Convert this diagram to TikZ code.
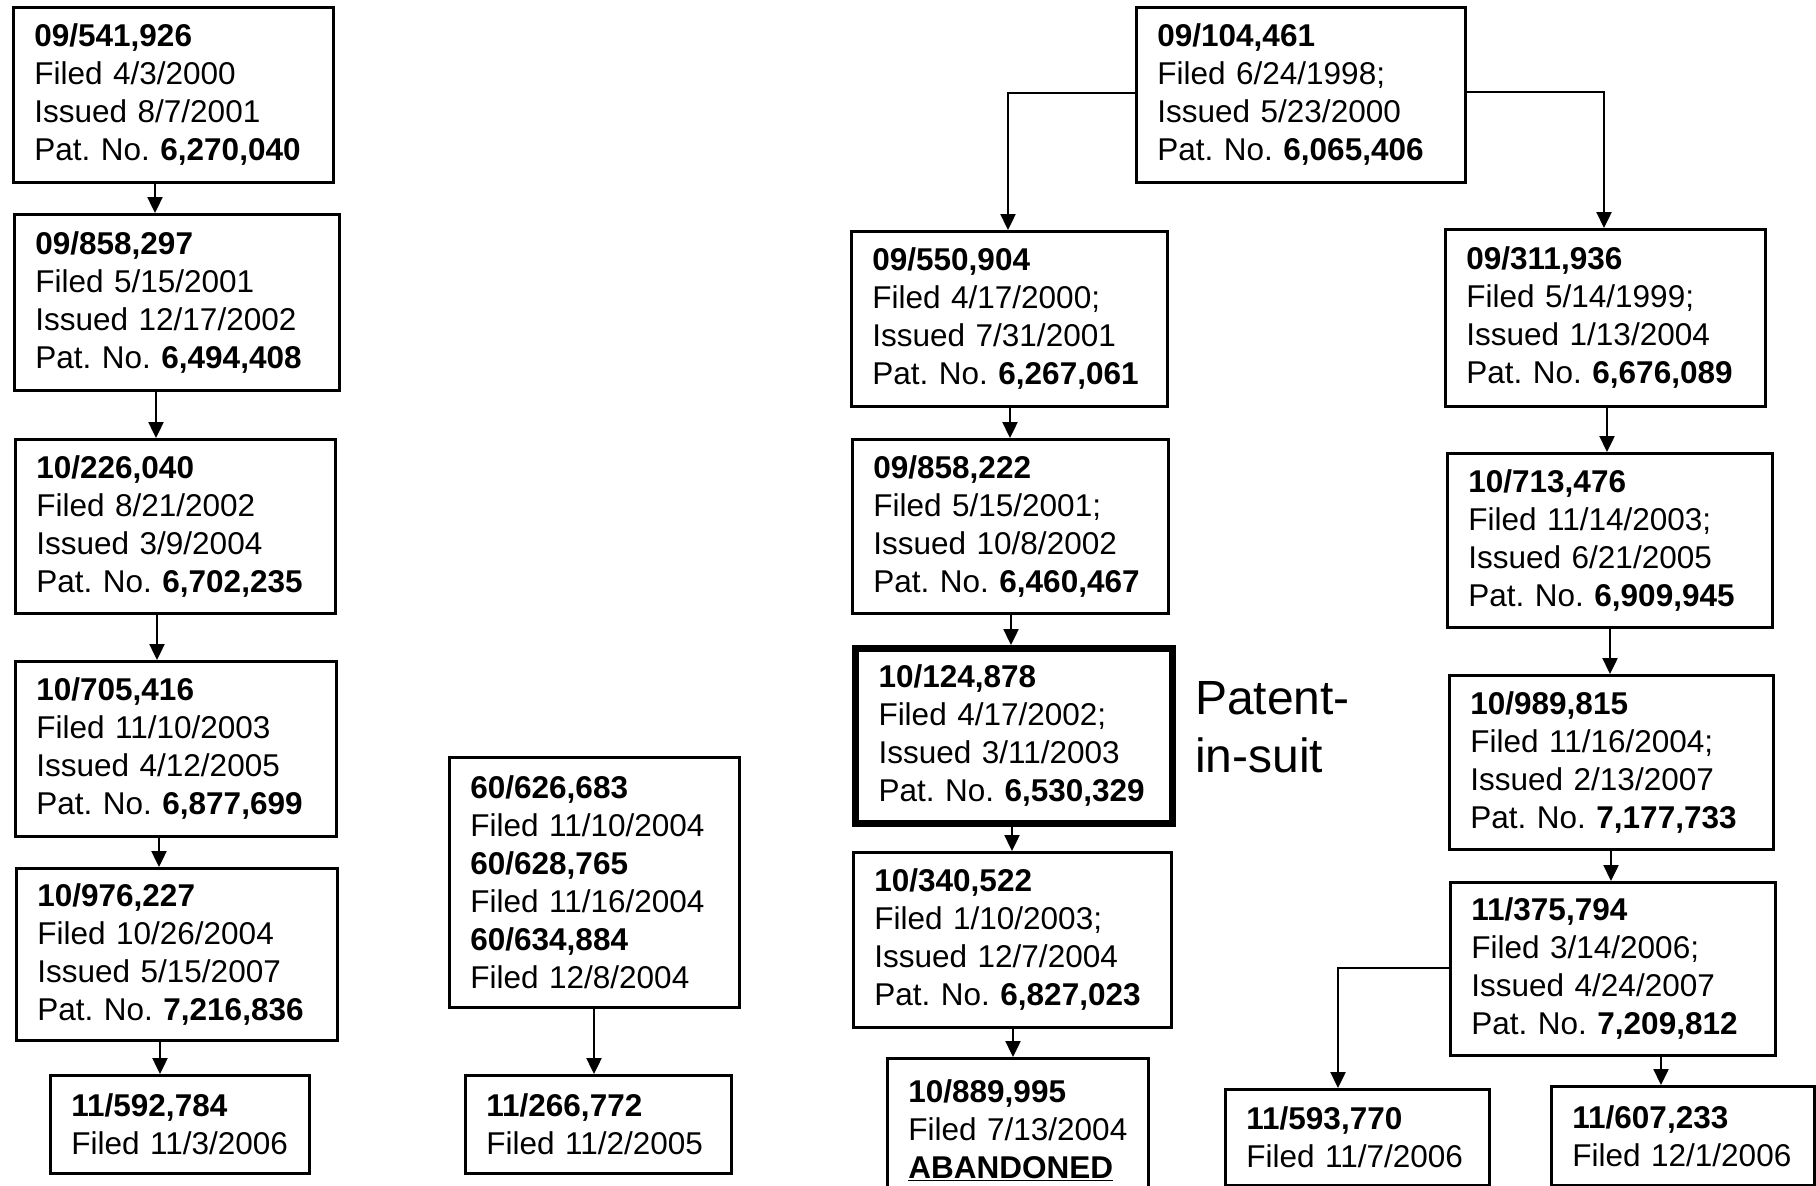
\documentclass[tikz,border=0pt]{standalone}
\usepackage{fontspec}
\setmainfont{Liberation Sans}
\usetikzlibrary{arrows.meta}
\begin{document}
\begin{tikzpicture}[x=1pt,y=-1pt,
  box/.style={draw, line width=2.8pt, anchor=north west, inner xsep=21pt, inner ysep=0pt, align=left, font=\fontsize{31.5}{38}\selectfont},
  suitbox/.style={box, line width=7pt, inner xsep=23pt},
  arr/.style={line width=2.4pt, -{Triangle[length=16pt,width=15pt]}},
  lbl/.style={font=\fontsize{48}{58}\selectfont, align=left, inner sep=0pt, anchor=west}]
\useasboundingbox (0,0) rectangle (1816,1186);
\clip (0,0) rectangle (1816,1186);

% left column
\node[box, minimum width=320pt, minimum height=175pt, text width=278pt] (a1) at (12,6)
  {\textbf{09/541,926}\\Filed~4/3/2000\\Issued~8/7/2001\\Pat.~No.~\textbf{6,270,040}};
\node[box, minimum width=325pt, minimum height=176pt, text width=283pt] (a2) at (13,213)
  {\textbf{09/858,297}\\Filed~5/15/2001\\Issued~12/17/2002\\Pat.~No.~\textbf{6,494,408}};
\node[box, minimum width=320pt, minimum height=174pt, text width=278pt] (a3) at (14,438)
  {\textbf{10/226,040}\\Filed~8/21/2002\\Issued~3/9/2004\\Pat.~No.~\textbf{6,702,235}};
\node[box, minimum width=321pt, minimum height=175pt, text width=279pt] (a4) at (14,660)
  {\textbf{10/705,416}\\Filed~11/10/2003\\Issued~4/12/2005\\Pat.~No.~\textbf{6,877,699}};
\node[box, minimum width=321pt, minimum height=172pt, text width=279pt] (a5) at (15,867)
  {\textbf{10/976,227}\\Filed~10/26/2004\\Issued~5/15/2007\\Pat.~No.~\textbf{7,216,836}};
\node[box, minimum width=259pt, minimum height=98pt, text width=217pt] (a6) at (49,1074)
  {\textbf{11/592,784}\\Filed~11/3/2006};

% provisional column
\node[box, minimum width=290pt, minimum height=250pt, text width=248pt] (b1) at (448,756)
  {\textbf{60/626,683}\\Filed~11/10/2004\\\textbf{60/628,765}\\Filed~11/16/2004\\\textbf{60/634,884}\\Filed~12/8/2004};
\node[box, minimum width=266pt, minimum height=98pt, text width=224pt] (b2) at (464,1074)
  {\textbf{11/266,772}\\Filed~11/2/2005};

% middle column
\node[box, minimum width=329pt, minimum height=175pt, text width=287pt] (c0) at (1135,6)
  {\textbf{09/104,461}\\Filed~6/24/1998;\\Issued~5/23/2000\\Pat.~No.~\textbf{6,065,406}};
\node[box, minimum width=316pt, minimum height=175pt, text width=274pt] (c1) at (850,230)
  {\textbf{09/550,904}\\Filed~4/17/2000;\\Issued~7/31/2001\\Pat.~No.~\textbf{6,267,061}};
\node[box, minimum width=316pt, minimum height=174pt, text width=274pt] (c2) at (851,438)
  {\textbf{09/858,222}\\Filed~5/15/2001;\\Issued~10/8/2002\\Pat.~No.~\textbf{6,460,467}};
\node[suitbox, minimum width=317pt, minimum height=175pt, text width=271pt] (c3) at (852,645)
  {\textbf{10/124,878}\\Filed~4/17/2002;\\Issued~3/11/2003\\Pat.~No.~\textbf{6,530,329}};
\node[box, minimum width=318pt, minimum height=175pt, text width=276pt] (c4) at (852,851)
  {\textbf{10/340,522}\\Filed~1/10/2003;\\Issued~12/7/2004\\Pat.~No.~\textbf{6,827,023}};
\node[box, minimum width=261pt, minimum height=143pt, text width=219pt] (c5) at (886,1057)
  {\textbf{10/889,995}\\Filed~7/13/2004\\\underline{\textbf{ABANDONED}}};
\node[lbl] (pis) at (1195,727) {Patent-\\in-suit};

% right column
\node[box, minimum width=320pt, minimum height=177pt, text width=278pt] (d1) at (1444,228)
  {\textbf{09/311,936}\\Filed~5/14/1999;\\Issued~1/13/2004\\Pat.~No.~\textbf{6,676,089}};
\node[box, minimum width=325pt, minimum height=174pt, text width=283pt] (d2) at (1446,452)
  {\textbf{10/713,476}\\Filed~11/14/2003;\\Issued~6/21/2005\\Pat.~No.~\textbf{6,909,945}};
\node[box, minimum width=324pt, minimum height=174pt, text width=282pt] (d3) at (1448,674)
  {\textbf{10/989,815}\\Filed~11/16/2004;\\Issued~2/13/2007\\Pat.~No.~\textbf{7,177,733}};
\node[box, minimum width=325pt, minimum height=173pt, text width=283pt] (d4) at (1449,881)
  {\textbf{11/375,794}\\Filed~3/14/2006;\\Issued~4/24/2007\\Pat.~No.~\textbf{7,209,812}};
\node[box, minimum width=264pt, minimum height=96pt, text width=222pt] (d5) at (1224,1088)
  {\textbf{11/593,770}\\Filed~11/7/2006};
\node[box, minimum width=263pt, minimum height=99pt, text width=221pt] (d6) at (1550,1085)
  {\textbf{11/607,233}\\Filed~12/1/2006};

% connectors
\draw[arr] (a1.south -| 155,0) -- (a2.north -| 155,0);
\draw[arr] (a2.south -| 156,0) -- (a3.north -| 156,0);
\draw[arr] (a3.south -| 157,0) -- (a4.north -| 157,0);
\draw[arr] (a4.south -| 159,0) -- (a5.north -| 159,0);
\draw[arr] (a5.south -| 160,0) -- (a6.north -| 160,0);
\draw[arr] (b1.south -| 594,0) -- (b2.north -| 594,0);
\draw[arr] (c0.west |- 0,93) -| (c1.north -| 1008,0);
\draw[arr] (c0.east |- 0,92) -| (d1.north -| 1604,0);
\draw[arr] (c1.south -| 1010,0) -- (c2.north -| 1010,0);
\draw[arr] (c2.south -| 1011,0) -- (c3.north -| 1011,0);
\draw[arr] (c3.south -| 1012,0) -- (c4.north -| 1012,0);
\draw[arr] (c4.south -| 1013,0) -- (c5.north -| 1013,0);
\draw[arr] (d1.south -| 1607,0) -- (d2.north -| 1607,0);
\draw[arr] (d2.south -| 1610,0) -- (d3.north -| 1610,0);
\draw[arr] (d3.south -| 1611,0) -- (d4.north -| 1611,0);
\draw[arr] (d4.west |- 0,968) -| (d5.north -| 1338,0);
\draw[arr] (d4.south -| 1661,0) -- (d6.north -| 1661,0);
\end{tikzpicture}
\end{document}
